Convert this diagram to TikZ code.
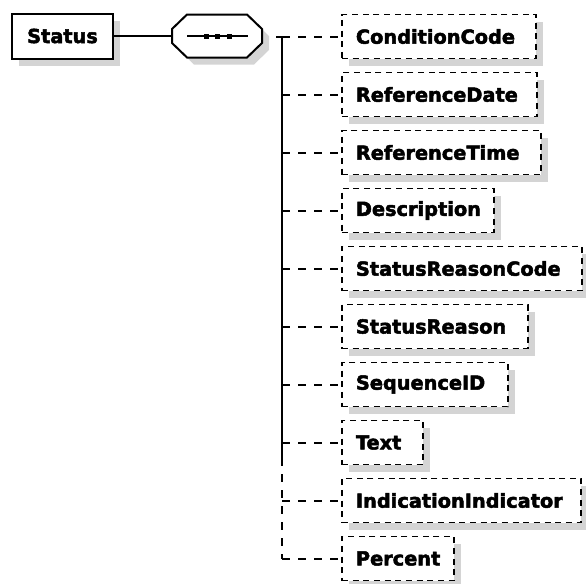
\documentclass[tikz,border=0pt]{standalone}
\usepackage{fontspec}
\setmainfont{DejaVu Sans}
\newfontfamily\elemfont{DejaVu Sans}[BoldFeatures={FakeBold=2.5}]
\usetikzlibrary{shadows,calc}

\tikzset{
  boxshadow/.style={general shadow={fill=black!17,shadow xshift=5.25pt,shadow yshift=-5.25pt}},
  elembox/.style={draw,line width=1.5pt,fill=white,boxshadow,inner ysep=0pt,
    font=\elemfont\bfseries\fontsize{14.5}{17}\selectfont},
  optbox/.style={elembox,line width=1.4pt,dash pattern=on 4.5pt off 3.5pt,
    align=left,inner xsep=10.5pt,minimum height=33pt},
  link/.style={line width=1.5pt},
  optlink/.style={link,dash pattern=on 6pt off 6pt}
}

\begin{document}
\begin{tikzpicture}[x=0.75pt,y=-0.75pt]
  \useasboundingbox (0,0) rectangle (586,583);

  % Parent element and its sequence compositor.
  \node[elembox,minimum width=75.75pt,minimum height=33.75pt] (status) at (62.5,36) {Status};
  \node[minimum width=67.5pt,minimum height=32.25pt,inner sep=0pt] (seq) at (217,36) {};
  \fill[black!17,shift={(7,7)}] (172,29) -- (187,14.5) -- (247,14.5) -- (262,29)
    -- (262,43) -- (247,57.5) -- (187,57.5) -- (172,43) -- cycle;
  \draw[line width=1.5pt,fill=white] (172,29) -- (187,14.5) -- (247,14.5) -- (262,29)
    -- (262,43) -- (247,57.5) -- (187,57.5) -- (172,43) -- cycle;
  \draw[link] (status.east) -- (seq.west);
  \draw[link] ($(seq.center)+(-30,0)$) -- ($(seq.center)+(31,0)$);
  \foreach \dx in {-11,0,12}
    \fill ($(seq.center)+(\dx,0)$) ++(-2.5,-2.5) rectangle ++(5,5);

  % Optional child elements, one row each.
  \foreach \i/\name/\lab/\w in {
      0/cc/ConditionCode/194,
      1/rd/ReferenceDate/195,
      2/rt/ReferenceTime/199,
      3/desc/Description/152,
      4/src/StatusReasonCode/240,
      5/sr/StatusReason/186,
      6/sid/SequenceID/166,
      7/txt/Text/81,
      8/ii/IndicationIndicator/239,
      9/pct/Percent/112} {
    \pgfmathsetmacro\tw{(\w-28)*0.75}
    \node[optbox,text width=\tw pt,anchor=west] (\name) at (341,{36.5+58*\i}) {\lab};
    \coordinate (fork\i) at (282,{36.5+58*\i});
    \draw[optlink] (fork\i) -- (\name.west);
  }

  % Trunk of the sequence: solid at the top, dashed at the end.
  \coordinate (seqout) at (276,36.5);
  \coordinate (trunkbreak) at (282,458);
  \draw[optlink] (seqout) -- (fork0);
  \draw[link] (fork0) -- (trunkbreak);
  \draw[optlink] (trunkbreak) -- (fork9);
\end{tikzpicture}
\end{document}
